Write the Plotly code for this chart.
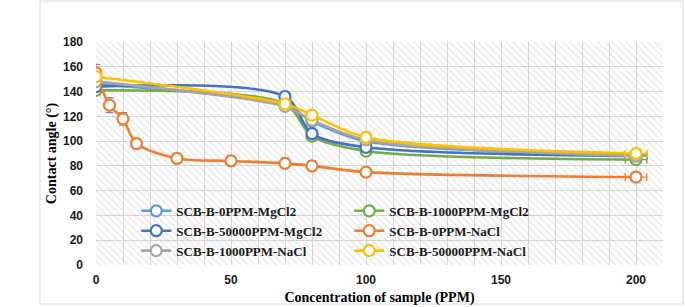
import plotly.graph_objects as go

# ---- data ----
names = ["SCB-B-0PPM-MgCl2", "SCB-B-1000PPM-MgCl2", "SCB-B-50000PPM-MgCl2",
         "SCB-B-0PPM-NaCl", "SCB-B-1000PPM-NaCl", "SCB-B-50000PPM-NaCl"]
colors = ["#5B9BD5", "#70AD47", "#4472C4", "#ED7D31", "#A5A5A5", "#FFC000"]

x_short = [0, 70, 80, 100, 200]
x_nacl0 = [0, 5, 10, 15, 30, 50, 70, 80, 100, 200]

y_mg0 = [146, 129, 116, 100, 89]
y_mg1000 = [141, 130, 104, 92, 85]
y_mg50000 = [144, 136, 106, 95, 88]
y_na0 = [155, 129, 118, 98, 86, 84, 82, 80, 75, 71]
y_na1000 = [148, 128, 117, 101, 88]
y_na50000 = [152, 130, 121, 103, 90]

err_na0 = [7, 6, 5, 4, 4, 4, 4, 4, 3, 3]
err_short = [1, 1, 1, 1, 1]
xerr_short = [0, 0, 0, 0, 4]
xerr_na0 = [0, 0, 0, 0, 0, 0, 0, 0, 0, 4]

series = [
    (x_short, y_mg0, err_short, xerr_short),
    (x_short, y_mg1000, err_short, xerr_short),
    (x_short, y_mg50000, err_short, xerr_short),
    (x_nacl0, y_na0, err_na0, xerr_na0),
    (x_short, y_na1000, err_short, xerr_short),
    (x_short, y_na50000, err_short, xerr_short),
]

x_range = [0, 210]
y_range = [0, 180]

fig = go.Figure()

# hatched plot-area background (decoration spanning the full axis range)
fig.add_trace(go.Bar(
    x=[(x_range[0] + x_range[1]) / 2], y=[y_range[1]],
    width=[x_range[1] - x_range[0]],
    marker=dict(color="#bdbdbd", line=dict(width=0),
                pattern=dict(shape="\\", size=5, solidity=0.25,
                             fgcolor="#cccccc", bgcolor="rgba(255,255,255,0)",
                             fillmode="overlay")),
    showlegend=False, hoverinfo="skip"))

for name, color, (xs, ys, ey, ex) in zip(names, colors, series):
    fig.add_trace(go.Scatter(
        x=xs, y=ys, name=name, mode="lines+markers",
        line=dict(color=color, width=2.6, shape="spline", smoothing=0.85),
        marker=dict(symbol="circle", size=11, color="white",
                    line=dict(color=color, width=2.2)),
        error_y=dict(type="data", array=ey, visible=True, color="#8c8c8c",
                     thickness=1.3, width=4),
        error_x=dict(type="data", array=ex, visible=True, color=color,
                     thickness=1.3, width=4),
    ))

fig.add_shape(type="rect", xref="paper", yref="paper",
              x0=-0.0988, x1=1.0353, y0=-0.175, y1=1.184,
              line=dict(color="#d9d9d9", width=1), fillcolor="rgba(0,0,0,0)",
              layer="below")

fig.update_layout(
    template="none",
    width=685, height=307,
    margin=dict(l=96, r=22, t=42, b=42),
    paper_bgcolor="white", plot_bgcolor="white",
    font=dict(family="Liberation Sans", color="#1a1a1a"),
    bargap=0,
    xaxis=dict(range=x_range, dtick=50, tick0=0, showgrid=True, automargin=False,
               gridcolor="#d4d4d4", gridwidth=1.3, ticks="",
               minor=dict(dtick=10, showgrid=True, gridcolor="#d4d4d4", gridwidth=1.3, ticks=""),
               zeroline=False, showline=False,
               tickfont=dict(family="Liberation Sans", size=12, weight="bold", color="#1a1a1a"),
               ticklabelstandoff=6,
               title=dict(text="Concentration of sample (PPM)", standoff=6,
                          font=dict(family="Liberation Serif", size=14, weight="bold", color="black"))),
    yaxis=dict(range=y_range, dtick=20, showgrid=True, automargin=False,
               gridcolor="#d4d4d4", gridwidth=1.3, ticks="",
               zeroline=False, showline=False,
               tickfont=dict(family="Liberation Sans", size=12, weight="bold", color="#1a1a1a"),
               ticklabelstandoff=12,
               title=dict(text="Contact angle (°)", standoff=3,
                          font=dict(family="Liberation Serif", size=14, weight="bold", color="black"))),
    legend=dict(orientation="h", x=0.071, y=0.31, xanchor="left", yanchor="top",
                entrywidth=168, entrywidthmode="pixels",
                bgcolor="rgba(0,0,0,0)",
                font=dict(family="Liberation Serif", size=13, weight="bold", color="#1a1a1a"),
                tracegroupgap=0),
    showlegend=True,
)

fig.write_html("out.html", config={"displayModeBar": False},
               post_script="document.body.style.margin='0';document.body.style.padding='0';")
